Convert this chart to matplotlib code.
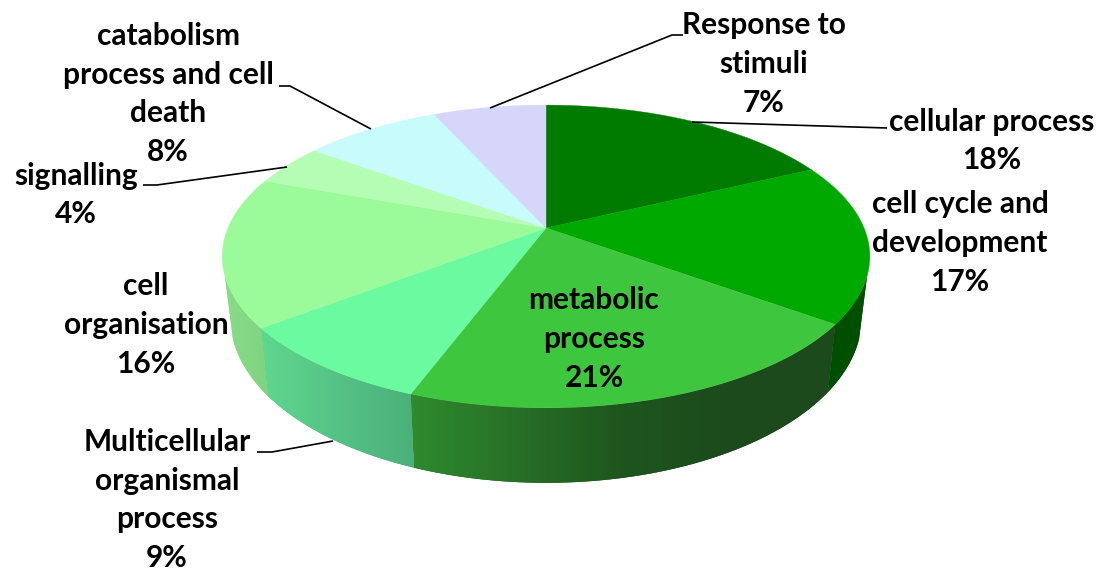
from __future__ import annotations

import matplotlib
matplotlib.use("Agg")
import matplotlib.pyplot as plt
import numpy as np
from matplotlib.colors import LinearSegmentedColormap
from matplotlib.patches import PathPatch
from matplotlib.path import Path

plt.rcParams["font.family"] = ["Lato", "DejaVu Sans"]

# =========================
# Data
# =========================

CATEGORIES = [
    "cellular process",
    "cell cycle and\ndevelopment",
    "metabolic\nprocess",
    "Multicellular\norganismal\nprocess",
    "cell\norganisation",
    "signalling",
    "catabolism\nprocess and cell\ndeath",
    "Response to\nstimuli",
]
PERCENT = [18, 17, 21, 9, 16, 4, 8, 7]
SLICE_SIZE = [17.9, 17.1, 20.7, 8.9, 15.95, 4.45, 8.25, 6.75]

# =========================
# Style
# =========================

TOP_COLORS = ["#007b00", "#00a900", "#3fc63f", "#6bfa9f",
              "#9bfb9b", "#b5fcb5", "#c8fbfb", "#d6d6fa"]
# side wall colours, left to right on screen
SIDE_COLORS = [
    ["#005800", "#005800"],
    ["#004f00", "#004f00"],
    ["#2e8b2e", "#276f27", "#1e551e", "#1c4a1c", "#1c4a1c"],
    ["#5fd88f", "#55c285", "#4bb07a"],
    ["#88dc88", "#80d480"],
    ["#a0e0a0", "#a0e0a0"],
    ["#b0e0e0", "#b0e0e0"],
    ["#c0c0e0", "#c0c0e0"],
]

LABEL_X = [992, 960, 594, 167, 146, 76, 168, 764]
LABEL_Y = [141, 243, 339, 500, 325, 195, 94, 64]
LEADERS = [
    ([692, 887], [122, 128]),
    ([333, 272, 257], [441, 452, 452]),
    ([287, 157, 143], [167, 185, 185]),
    ([371, 290, 279], [129, 86, 86]),
    ([490, 672, 683], [108, 35, 35]),
]

CX = 546
K = 0.188
TOP = (318, 228, 146)  # x radius, y centre, y radius
BOTTOM = (310, 287, 159)
# part of the rim where the side wall shows
WALL_FROM = np.radians(108)
WALL_TO = np.radians(252)


def project(theta, rim):
    u, v = np.sin(theta), np.cos(theta)
    w = 1 + K * v
    return CX + rim[0] * u / w, rim[1] - rim[2] * v / w


def main() -> None:
    fig = plt.figure(figsize=(11.02, 5.72), dpi=100)
    ax = fig.add_axes([0, 0, 1, 1])

    edges = np.cumsum([0] + SLICE_SIZE) / sum(SLICE_SIZE) * 2 * np.pi

    # side wall first, top covers whatever is behind it
    for i in range(len(SLICE_SIZE)):
        start, stop = max(edges[i], WALL_FROM), min(edges[i + 1], WALL_TO)
        if start >= stop:
            continue
        th = np.linspace(start, stop, 120)
        xt, yt = project(th, TOP)
        xb, yb = project(th, BOTTOM)
        px = np.r_[xt, xb[::-1]]
        py = np.r_[yt, yb[::-1]]
        verts = np.column_stack([px, py])
        patch = PathPatch(Path(np.vstack([verts, verts[0]]), closed=True),
                          facecolor=SIDE_COLORS[i][-1], edgecolor="none", zorder=2)
        ax.add_patch(patch)
        cmap = LinearSegmentedColormap.from_list(f"side{i}", SIDE_COLORS[i])
        img = ax.imshow(np.linspace(0, 1, 256)[None, :], cmap=cmap, aspect="auto",
                        extent=[px.min(), px.max(), py.max(), py.min()], zorder=2.1)
        img.set_clip_path(patch)

    for i in range(len(SLICE_SIZE)):
        th = np.linspace(edges[i], edges[i + 1], 120)
        x, y = project(th, TOP)
        ax.fill(np.r_[CX, x], np.r_[TOP[1], y], color=TOP_COLORS[i], lw=0.3, zorder=3)

    for lx, ly in LEADERS:
        ax.plot(lx, ly, color="black", lw=1.2, zorder=4, solid_capstyle="butt")

    for name, pct, x, y in zip(CATEGORIES, PERCENT, LABEL_X, LABEL_Y):
        ax.text(x, y, f"{name}\n{pct}%", ha="center", va="center", fontsize=21.5,
                fontweight="bold", color="black", linespacing=1.46, zorder=5)

    ax.set_xlim(0, 1102)
    ax.set_ylim(572, 0)
    ax.axis("off")

    fig.savefig("out.png", dpi=100)
    plt.close(fig)


if True:
    main()
